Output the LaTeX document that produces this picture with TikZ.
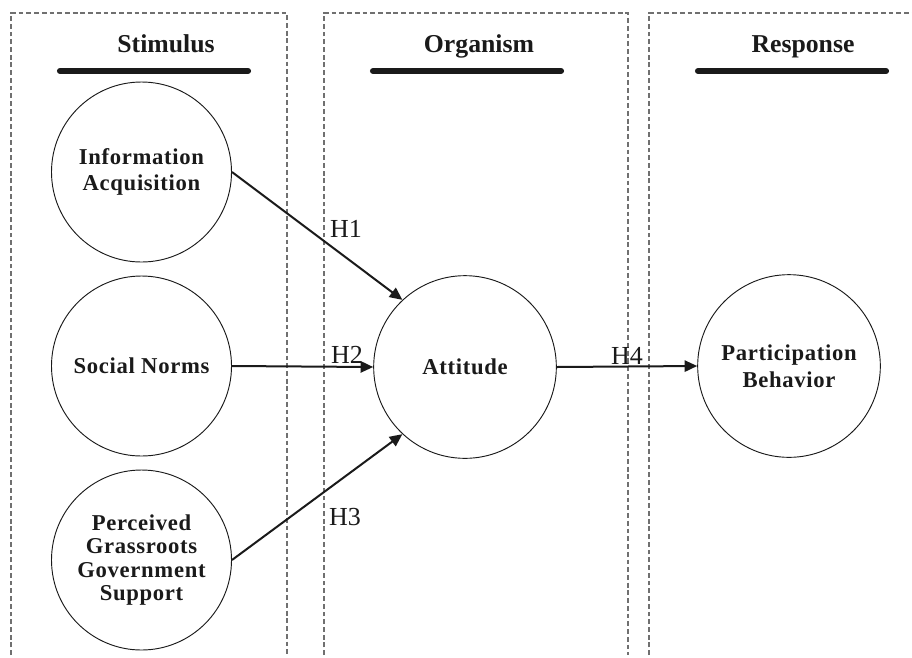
\documentclass[tikz,border=0pt]{standalone}
\usepackage{fontspec}
\setmainfont{Liberation Serif}
\usetikzlibrary{arrows.meta}
\definecolor{ink}{HTML}{1A1A1A}
\definecolor{dashgray}{HTML}{707070}
\tikzset{
  lane/.style={draw=dashgray, line width=0.8pt, dash pattern=on 3.6pt off 2.2pt},
  headbar/.style={draw=ink, line width=4.6pt, line cap=round},
  heading/.style={font=\fontsize{19.3}{22}\selectfont\bfseries, text=ink, inner sep=0pt, anchor=base},
  construct/.style={circle, draw=ink, line width=0.7pt, minimum size=135pt, inner sep=0pt,
    align=center, text=ink, font=\fontsize{17}{20}\selectfont\bfseries\addfontfeatures{LetterSpace=3}},
  hyp/.style={font=\fontsize{19.5}{22}\selectfont, text=ink, inner sep=0pt},
  path/.style={draw=ink, line width=1.5pt, -{Triangle[length=9.5pt,width=8.5pt]}}
}
\begin{document}
\begin{tikzpicture}[x=0.75pt,y=-0.75pt]
\useasboundingbox (0,0) rectangle (912,657);
% lanes
\draw[lane] (11,655) -- (11,13) -- (287,13) -- (287,655);
\draw[lane] (324,655) -- (324,13) -- (628,13) -- (628,655);
\draw[lane] (649,655) -- (649,13) -- (915,13);
% headings
\node[heading] (hS) at (166,52) {Stimulus};
\node[heading] (hO) at (479,52) {Organism};
\node[heading] (hR) at (803,52) {Response};
\draw[headbar] (60,71) -- (248,71);
\draw[headbar] (373,71) -- (561,71);
\draw[headbar] (698,71) -- (886,71);
% constructs
\node[construct] (ia) at (141.5,172) {Information\\Acquisition};
\node[construct] (sn) at (141.5,366) {Social Norms};
\node[construct, font=\fontsize{17}{17.6}\selectfont\bfseries\addfontfeatures{LetterSpace=3}] (pg) at (141.5,560) {Perceived\\Grassroots\\Government\\Support};
\node[construct, minimum size=137pt] (at) at (465,367) {Attitude};
\node[construct, minimum size=137pt] (pb) at (789,366) {Participation\\Behavior};
% paths
\draw[path] (ia.east) -- (at.133);
\draw[path] (sn.east) -- (at.west);
\draw[path] (pg.east) -- (at.227);
\draw[path] (at.east) -- (pb.west);
% labels
\node[hyp] (h1) at (346,229) {H1};
\node[hyp] (h2) at (347,355) {H2};
\node[hyp] (h3) at (345,517) {H3};
\node[hyp] (h4) at (627,356) {H4};
\end{tikzpicture}
\end{document}
